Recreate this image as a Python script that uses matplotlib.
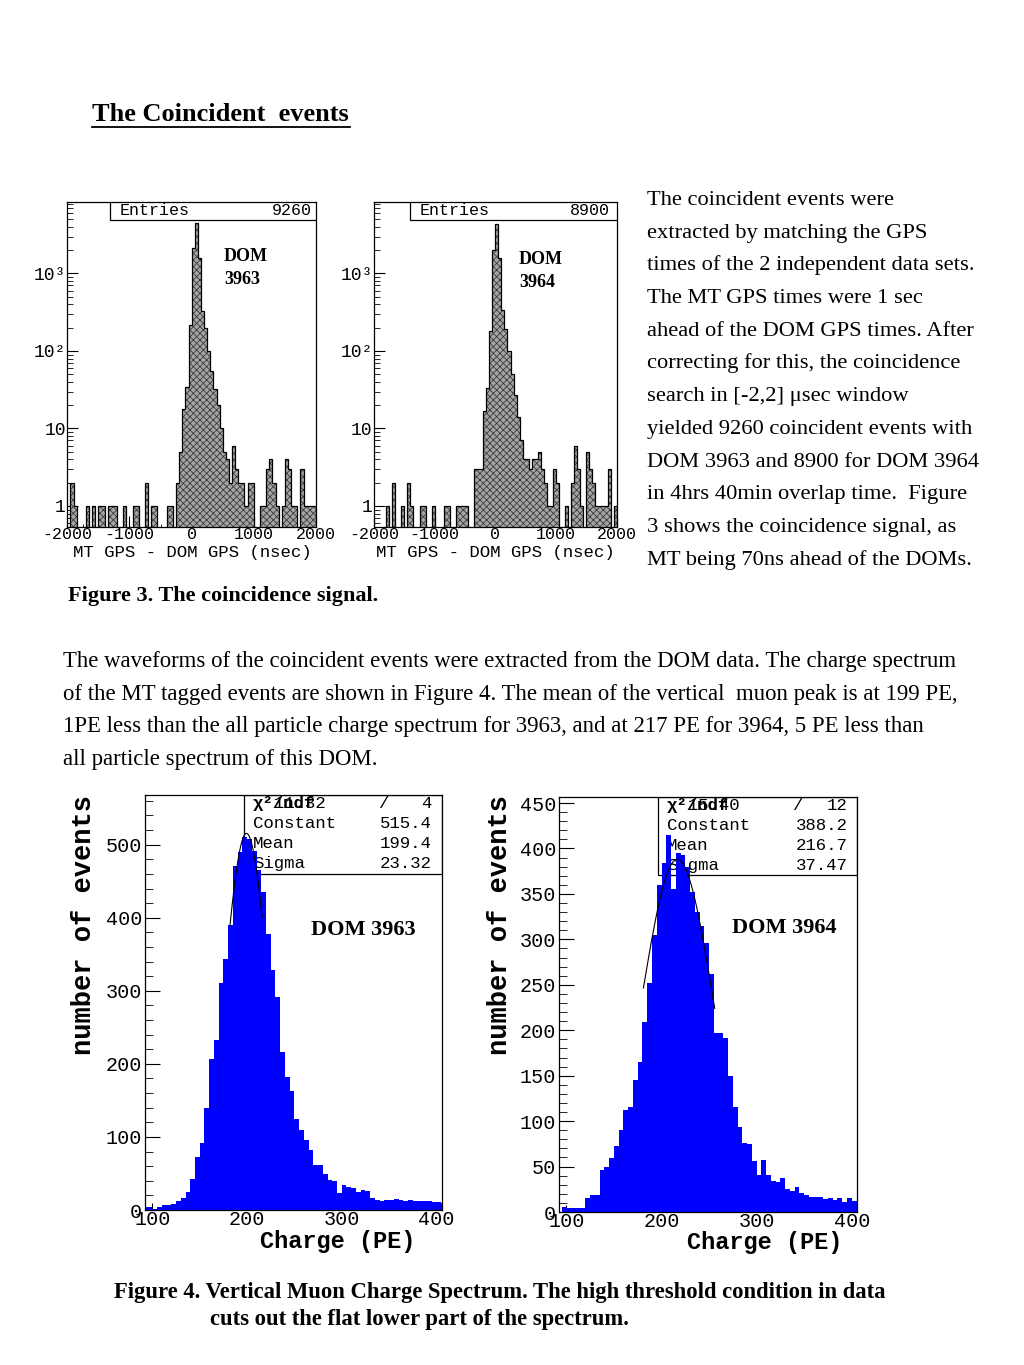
import numpy as np
import matplotlib
matplotlib.use("Agg")
import matplotlib.pyplot as plt
from matplotlib.patches import Rectangle
from matplotlib.ticker import FixedLocator, FixedFormatter, MultipleLocator, LogLocator, NullFormatter

SERIF = ['Liberation Serif', 'DejaVu Serif']
MONO = ['Liberation Mono', 'DejaVu Sans Mono']
plt.rcParams['font.family'] = MONO
plt.rcParams['axes.unicode_minus'] = False
plt.rcParams['hatch.linewidth'] = 0.6

W, H = 1024, 1365

# ---- data: MT GPS - DOM GPS (50 ns bins, -2000..2000) ----
dt_edges = np.linspace(-2000, 2000, 81)
dt_3963 = [0, 2, 1, 0, 0, 0, 1, 0, 1, 0,
           1, 1, 0, 1, 1, 1, 0, 0, 1, 0,
           0, 1, 1, 0, 0, 2, 0, 1, 1, 0,
           0, 0, 1, 1, 0, 2, 5, 18, 34, 217,
           2150, 4470, 1600, 330, 200, 100, 55, 32, 20, 10,
           5, 4, 2, 6, 3, 2, 2, 1, 2, 2,
           0, 0, 1, 1, 3, 4, 2, 1, 0, 1,
           4, 3, 1, 1, 0, 3, 1, 1, 1, 1]
dt_3964 = [0, 0, 0, 0, 1, 0, 2, 0, 0, 1,
           0, 2, 1, 0, 0, 1, 1, 0, 0, 1,
           0, 0, 0, 1, 1, 0, 0, 1, 1, 1,
           1, 0, 0, 3, 3, 3, 17, 33, 180, 2000,
           4300, 1600, 340, 190, 100, 50, 27, 14, 7, 4,
           4, 3, 4, 4, 5, 3, 2, 1, 1, 3,
           2, 0, 0, 1, 0, 2, 6, 3, 1, 0,
           5, 3, 2, 1, 1, 1, 1, 3, 0, 1]
entries = [9260, 8900]
log_ticks = [1, 10, 100, 1000]
log_tick_labels = ['1', '10', '10²', '10³']

# ---- data: charge spectra (5 PE bins, 90..410) ----
q_edges = np.arange(90, 415, 5)
q_3963 = [4, 4, 1, 4, 7, 7, 8, 13, 17, 25,
          43, 73, 92, 140, 207, 232, 311, 344, 390, 471,
          490, 510, 508, 492, 465, 435, 378, 328, 292, 216,
          182, 163, 125, 109, 96, 82, 62, 62, 49, 41,
          40, 23, 34, 32, 30, 25, 27, 26, 16, 14,
          12, 14, 14, 15, 14, 13, 14, 13, 13, 13,
          12, 11, 11, 10]
q_3964 = [0, 5, 4, 4, 4, 4, 15, 19, 19, 46,
          50, 59, 73, 90, 112, 116, 145, 165, 209, 252,
          305, 360, 384, 415, 355, 395, 393, 380, 352, 330,
          315, 296, 262, 197, 197, 192, 150, 115, 94, 76,
          75, 56, 41, 57, 41, 34, 33, 37, 25, 23,
          28, 21, 19, 16, 16, 17, 14, 15, 13, 15,
          11, 15, 12, 12]
# gaussian fits: constant, mean, sigma; fit range
fit_3963 = [515.4, 199.4, 23.32]
fit_range_3963 = [182, 216]
fit_3964 = [388.2, 216.7, 37.47]
fit_range_3964 = [181, 256]
fit_labels = ['Constant', 'Mean', 'Sigma']
ndf = [4, 12]

fig = plt.figure(figsize=(W / 100, H / 100), dpi=100)
fig.patch.set_facecolor('white')


def box(x0, y0, x1, y1):
    return [x0 / W, 1 - y1 / H, (x1 - x0) / W, (y1 - y0) / H]


def txt(x, y, s, size, weight='normal', family=SERIF, ha='left', va='baseline', **kw):
    return fig.text(x / W, 1 - y / H, s, fontsize=size, fontweight=weight,
                    family=family, ha=ha, va=va, **kw)


def style_axes(ax):
    for sp in ax.spines.values():
        sp.set_linewidth(0.9)
    ax.tick_params(which='both', direction='in', top=False, right=False)


# ---------- top: coincidence signal ----------
def gps_panel(x0, x1, counts, stat_x0):
    ax = fig.add_axes(box(x0, 201.7, x1, 527.3))
    c = np.asarray(counts, float)
    c = np.where(c > 0, c, 0.1)
    ax.stairs(c, dt_edges, baseline=0.1, fill=True, facecolor='#a4a4a4',
              edgecolor='#3c3c3c', hatch='xxxxx', linewidth=0, zorder=2)
    ax.stairs(c, dt_edges, baseline=0.1, color='black', linewidth=0.9, zorder=3)
    ax.set_yscale('log')
    ax.set_xlim(-2000, 2000)
    ax.set_ylim(0.531, 8440)
    ax.yaxis.set_major_locator(FixedLocator(log_ticks))
    ax.yaxis.set_major_formatter(FixedFormatter(log_tick_labels))
    ax.yaxis.set_minor_locator(LogLocator(base=10, subs=np.arange(2, 10)))
    ax.yaxis.set_minor_formatter(NullFormatter())
    ax.xaxis.set_major_locator(MultipleLocator(1000))
    ax.xaxis.set_minor_locator(MultipleLocator(250))
    style_axes(ax)
    ax.tick_params(which='major', length=8, width=0.8, labelsize=13, pad=1)
    ax.tick_params(axis='x', which='major', labelsize=12, pad=0)
    ax.tick_params(which='minor', length=4, width=0.6)
    ax.tick_params(axis='x', which='minor', length=2)
    bx = (stat_x0 - x0) / (x1 - x0)
    ax.add_patch(Rectangle((bx, 0.944), 1 - bx, 0.056, transform=ax.transAxes,
                           facecolor='white', edgecolor='black', lw=0.9, zorder=5))
    return ax


gps_panel(67.3, 316, dt_3963, 110)
gps_panel(374, 616.7, dt_3964, 410)

txt(120, 215, 'Entries', 12, family=MONO)
txt(312, 215, str(entries[0]), 12, family=MONO, ha='right')
txt(420, 215, 'Entries', 12, family=MONO)
txt(610, 215, str(entries[1]), 12, family=MONO, ha='right')
txt(192, 557, 'MT GPS - DOM GPS (nsec)', 12.5, family=MONO, ha='center')
txt(495, 557, 'MT GPS - DOM GPS (nsec)', 12.5, family=MONO, ha='center')
txt(224, 261, 'DOM', 13, 'bold')
txt(224, 284, '3963', 13, 'bold')
txt(519, 264, 'DOM', 13, 'bold')
txt(519, 287, '3964', 13, 'bold')


# ---------- bottom: charge spectra ----------
def charge_panel(x0, y0, x1, y1, counts, ymax, ymaj, ymin, fit, frange):
    ax = fig.add_axes(box(x0, y0, x1, y1))
    ax.stairs(counts, q_edges, fill=True, color='#0000ff', linewidth=0, zorder=2)
    xs = np.linspace(frange[0], frange[1], 120)
    ys = fit[0] * np.exp(-0.5 * ((xs - fit[1]) / fit[2]) ** 2)
    ax.plot(xs, ys, color='black', lw=0.8, zorder=4)
    ax.set_xlim(92.2, 405.9)
    ax.set_ylim(0, ymax)
    ax.xaxis.set_major_locator(MultipleLocator(100))
    ax.xaxis.set_minor_locator(MultipleLocator(20))
    ax.yaxis.set_major_locator(MultipleLocator(ymaj))
    ax.yaxis.set_minor_locator(MultipleLocator(ymin))
    style_axes(ax)
    ax.tick_params(which='major', length=11, width=0.8, labelsize=14.5, pad=2)
    ax.tick_params(which='minor', length=6, width=0.6)
    ax.tick_params(axis='x', which='major', length=5, pad=0)
    ax.tick_params(axis='x', which='minor', length=3)
    return ax


def stats(ax, x0, y0, x1, y1, chi_digits, n, vals):
    ax.add_patch(Rectangle((x0 / W, 1 - y1 / H), (x1 - x0) / W, (y1 - y0) / H,
                           transform=fig.transFigure, facecolor='white',
                           edgecolor='black', lw=0.9, zorder=1))
    rows = [y0 + 13, y0 + 33, y0 + 53, y0 + 73]
    kw = dict(transform=fig.transFigure, fontsize=12.5, family=MONO, va='baseline', zorder=1.5)
    ax.text((x0 + 9) / W, 1 - rows[0] / H, chi_digits, **kw)
    ax.text((x0 + 9) / W, 1 - rows[0] / H, 'χ²/ndf', fontweight='bold', **kw)
    ax.text((x0 + 134) / W, 1 - rows[0] / H, '/', **kw)
    ax.text((x1 - 10) / W, 1 - rows[0] / H, str(n), ha='right', **kw)
    for lab, v, yy in zip(fit_labels, vals, rows[1:]):
        ax.text((x0 + 9) / W, 1 - yy / H, lab, **kw)
        ax.text((x1 - 10) / W, 1 - yy / H, f'{v:.4g}', ha='right', **kw)


bl = charge_panel(145, 795, 442, 1210, q_3963, 568, 100, 20, fit_3963, fit_range_3963)
br = charge_panel(559, 796.7, 857.3, 1212, q_3964, 457, 50, 10, fit_3964, fit_range_3964)
stats(bl, 244, 795, 442, 874, '  11.32', ndf[0], fit_3963)
stats(br, 658, 796.7, 857.3, 875, '  15.40', ndf[1], fit_3964)

txt(84, 925, 'number of events', 19.5, 'bold', family=MONO, ha='center', va='center', rotation=90)
txt(500, 925, 'number of events', 19.5, 'bold', family=MONO, ha='center', va='center', rotation=90)
txt(338, 1248, 'Charge (PE)', 17, 'bold', family=MONO, ha='center')
txt(765, 1249, 'Charge (PE)', 17, 'bold', family=MONO, ha='center')
txt(311, 935, 'DOM 3963', 16, 'bold')
txt(732, 933, 'DOM 3964', 16, 'bold')

# ---------- page text ----------
txt(92, 121, 'The Coincident  events', 19, 'bold')
fig.add_artist(plt.Line2D([92 / W, 350 / W], [1 - 127 / H, 1 - 127 / H],
                          color='black', lw=1.3, transform=fig.transFigure))

right_lines = [
    'The coincident events were',
    'extracted by matching the GPS',
    'times of the 2 independent data sets.',
    'The MT GPS times were 1 sec',
    'ahead of the DOM GPS times. After',
    'correcting for this, the coincidence',
    'search in [-2,2] μsec window',
    'yielded 9260 coincident events with',
    'DOM 3963 and 8900 for DOM 3964',
    'in 4hrs 40min overlap time.  Figure',
    '3 shows the coincidence signal, as',
    'MT being 70ns ahead of the DOMs.',
]
for i, s in enumerate(right_lines):
    txt(647, 205 + i * 32.7, s, 16.2)

txt(68, 601, 'Figure 3. The coincidence signal.', 16, 'bold')

para = [
    'The waveforms of the coincident events were extracted from the DOM data. The charge spectrum',
    'of the MT tagged events are shown in Figure 4. The mean of the vertical  muon peak is at 199 PE,',
    '1PE less than the all particle charge spectrum for 3963, and at 217 PE for 3964, 5 PE less than',
    'all particle spectrum of this DOM.',
]
for i, s in enumerate(para):
    txt(63, 667 + i * 32.7, s, 16.4)

txt(114, 1298, 'Figure 4. Vertical Muon Charge Spectrum. The high threshold condition in data', 16.3, 'bold')
txt(210, 1325, 'cuts out the flat lower part of the spectrum.', 16.3, 'bold')

fig.savefig('out.png', dpi=100)
